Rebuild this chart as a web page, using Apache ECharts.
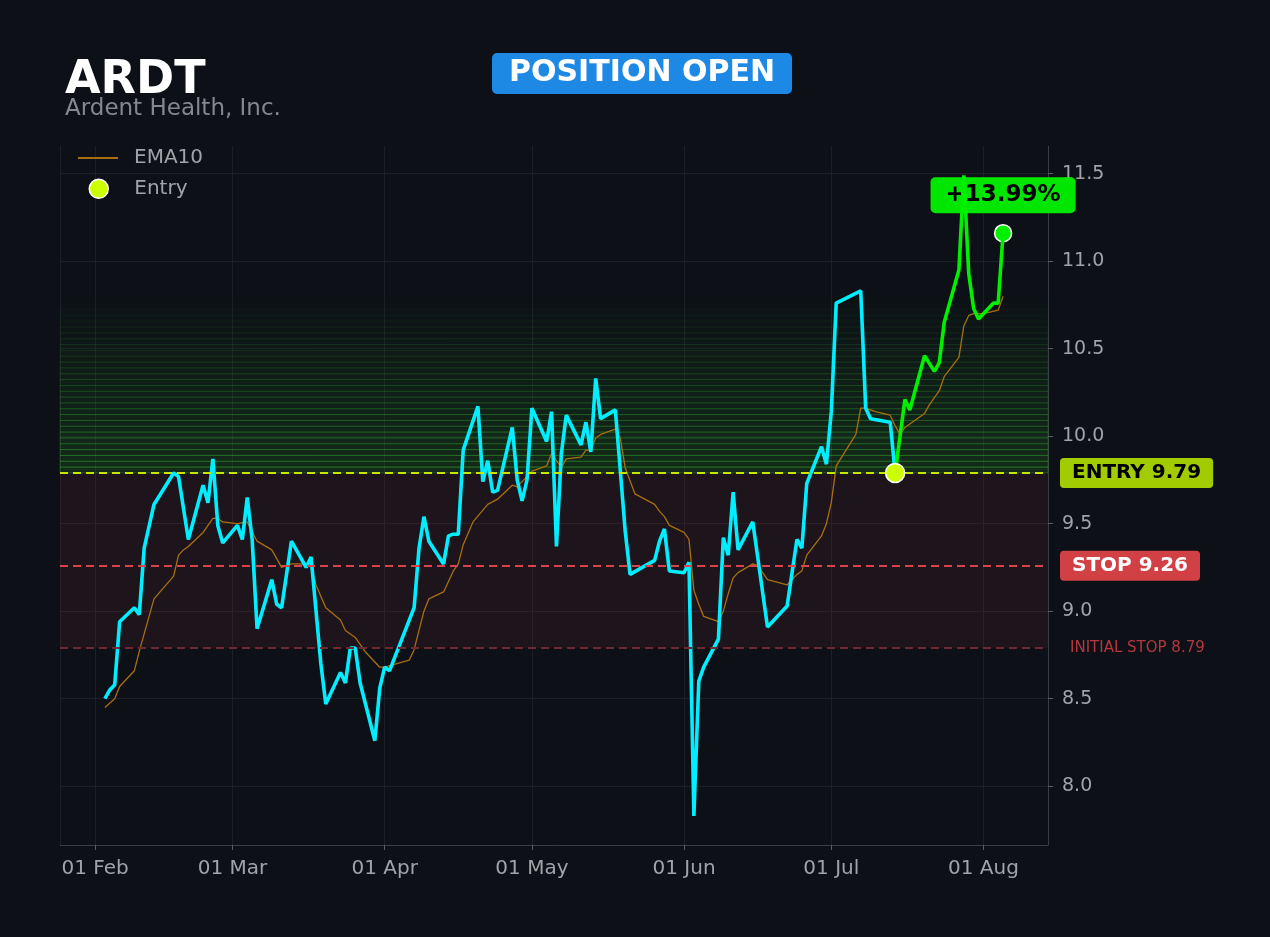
<!DOCTYPE html>
<html>
<head>
<meta charset="utf-8">
<script src="https://cdn.jsdelivr.net/npm/echarts@6/dist/echarts.min.js"></script>
<style>
html,body{margin:0;padding:0;background:#0d1117;}
#chart{width:1270px;height:937px;}
</style>
</head>
<body>
<div id="chart"></div>
<script>
/* ARDT position chart: close line (cyan before entry, green after), EMA10,
   entry / stop / initial stop levels, profit zone gradient and risk zone. */
var TICKER = "ARDT";
var COMPANY = "Ardent Health, Inc.";
var STATUS = "POSITION OPEN";
var ENTRY = 9.79, STOP = 9.26, INITIAL_STOP = 8.79;
var ENTRY_DATE = "2025-07-14";

var priceDates = [
  "2025-02-03","2025-02-04","2025-02-05","2025-02-06","2025-02-09","2025-02-10","2025-02-11","2025-02-13",
  "2025-02-17","2025-02-18","2025-02-20","2025-02-23","2025-02-24","2025-02-25","2025-02-26","2025-02-27",
  "2025-03-02","2025-03-03","2025-03-04","2025-03-05","2025-03-06","2025-03-09","2025-03-10","2025-03-11",
  "2025-03-13","2025-03-16","2025-03-17","2025-03-19","2025-03-20","2025-03-23","2025-03-24","2025-03-25",
  "2025-03-26","2025-03-27","2025-03-30","2025-03-31","2025-04-01","2025-04-02","2025-04-07","2025-04-08",
  "2025-04-09","2025-04-10","2025-04-13","2025-04-14","2025-04-15","2025-04-16","2025-04-17","2025-04-20",
  "2025-04-21","2025-04-22","2025-04-23","2025-04-24","2025-04-27","2025-04-28","2025-04-29","2025-04-30",
  "2025-05-01","2025-05-04","2025-05-05","2025-05-06","2025-05-07","2025-05-08","2025-05-11","2025-05-12",
  "2025-05-13","2025-05-14","2025-05-15","2025-05-18","2025-05-20","2025-05-21","2025-05-26","2025-05-27",
  "2025-05-28","2025-05-29","2025-06-01","2025-06-02","2025-06-03","2025-06-04","2025-06-05","2025-06-08",
  "2025-06-09","2025-06-10","2025-06-11","2025-06-12","2025-06-15","2025-06-18","2025-06-22","2025-06-24",
  "2025-06-25","2025-06-26","2025-06-29","2025-06-30","2025-07-01","2025-07-02","2025-07-07","2025-07-08",
  "2025-07-09","2025-07-13","2025-07-14","2025-07-16","2025-07-17","2025-07-20","2025-07-22","2025-07-23",
  "2025-07-24","2025-07-27","2025-07-28","2025-07-29","2025-07-30","2025-07-31","2025-08-03","2025-08-04",
  "2025-08-05"
];
var priceValues = [
  8.50, 8.55, 8.58, 8.94, 9.02, 8.98, 9.36, 9.61,
  9.79, 9.77, 9.41, 9.72, 9.62, 9.87, 9.49, 9.39,
  9.49, 9.41, 9.65, 9.41, 8.90, 9.18, 9.04, 9.02,
  9.40, 9.25, 9.31, 8.70, 8.47, 8.65, 8.59, 8.79,
  8.79, 8.59, 8.26, 8.56, 8.68, 8.66, 9.02, 9.36,
  9.54, 9.40, 9.27, 9.43, 9.44, 9.44, 9.92, 10.17,
  9.74, 9.86, 9.68, 9.69, 10.05, 9.75, 9.63, 9.75,
  10.16, 9.97, 10.14, 9.37, 9.90, 10.12, 9.95, 10.08,
  9.91, 10.33, 10.10, 10.15, 9.46, 9.21, 9.29, 9.40,
  9.47, 9.23, 9.22, 9.28, 7.83, 8.60, 8.68, 8.84,
  9.42, 9.32, 9.68, 9.35, 9.51, 8.91, 9.03, 9.41,
  9.36, 9.73, 9.94, 9.84, 10.14, 10.76, 10.83, 10.16,
  10.10, 10.08, 9.79, 10.21, 10.15, 10.46, 10.37, 10.42,
  10.65, 10.95, 11.49, 10.93, 10.73, 10.67, 10.76, 10.76,
  11.16
];

var emaDates = [
  "2025-02-03","2025-02-05","2025-02-06","2025-02-09","2025-02-10","2025-02-13","2025-02-17","2025-02-18",
  "2025-02-19","2025-02-20","2025-02-23","2025-02-25","2025-02-26","2025-02-27","2025-03-02","2025-03-04",
  "2025-03-06","2025-03-09","2025-03-11","2025-03-13","2025-03-15","2025-03-17","2025-03-18","2025-03-20",
  "2025-03-23","2025-03-24","2025-03-26","2025-03-28","2025-03-31","2025-04-01","2025-04-06","2025-04-07",
  "2025-04-09","2025-04-10","2025-04-13","2025-04-15","2025-04-16","2025-04-17","2025-04-19","2025-04-22",
  "2025-04-24","2025-04-27","2025-04-28","2025-05-01","2025-05-04","2025-05-05","2025-05-07","2025-05-08",
  "2025-05-11","2025-05-12","2025-05-13","2025-05-14","2025-05-15","2025-05-18","2025-05-19","2025-05-20",
  "2025-05-22","2025-05-26","2025-05-27","2025-05-28","2025-05-29","2025-06-01","2025-06-02","2025-06-03",
  "2025-06-04","2025-06-05","2025-06-08","2025-06-09","2025-06-10","2025-06-11","2025-06-12","2025-06-15",
  "2025-06-16","2025-06-18","2025-06-22","2025-06-24","2025-06-25","2025-06-26","2025-06-29","2025-06-30",
  "2025-07-01","2025-07-02","2025-07-06","2025-07-07","2025-07-08","2025-07-10","2025-07-13","2025-07-14",
  "2025-07-15","2025-07-16","2025-07-20","2025-07-21","2025-07-23","2025-07-24","2025-07-27","2025-07-28",
  "2025-07-29","2025-07-30","2025-08-01","2025-08-04","2025-08-05"
];
var emaValues = [
  8.45, 8.50, 8.57, 8.66, 8.77, 9.07, 9.20, 9.32,
  9.35, 9.37, 9.45, 9.53, 9.53, 9.51, 9.50, 9.51,
  9.40, 9.35, 9.25, 9.27, 9.27, 9.26, 9.15, 9.02,
  8.95, 8.89, 8.85, 8.77, 8.68, 8.68, 8.72, 8.78,
  9.00, 9.07, 9.11, 9.23, 9.27, 9.38, 9.51, 9.61,
  9.64, 9.72, 9.71, 9.80, 9.83, 9.90, 9.82, 9.87,
  9.88, 9.92, 9.92, 9.99, 10.01, 10.04, 9.99, 9.82,
  9.67, 9.61, 9.57, 9.54, 9.49, 9.45, 9.41, 9.12,
  9.04, 8.97, 8.94, 9.00, 9.10, 9.19, 9.22, 9.27,
  9.26, 9.18, 9.15, 9.21, 9.23, 9.32, 9.43, 9.50,
  9.62, 9.83, 10.01, 10.16, 10.16, 10.14, 10.12, 10.06,
  10.01, 10.05, 10.13, 10.18, 10.26, 10.34, 10.45, 10.63,
  10.69, 10.70, 10.70, 10.72, 10.80
];

var MONTHS = ["Jan","Feb","Mar","Apr","May","Jun","Jul","Aug","Sep","Oct","Nov","Dec"];
var Y_MIN = 7.664, Y_MAX = 11.658;

var DAY = 86400000;
var FONT = "'DejaVu Sans', Verdana, sans-serif";
var C = {
  bg:"#0d1117", grid:"#1c1f26", axis:"#383c43", text:"#a0a3a8",
  cyan:"#00eeff", green:"#00f000", ema:"#a86f10",
  entry:"#c8e600", entryBox:"#a3cc00", stop:"#d9434b", stopBox:"#d04045",
  initStop:"#6e2a30", risk:"#b5373d"
};

function ts(s){ return echarts.number.parseDate(s).getTime(); }

/* split the close line at the entry: cyan before, green from entry on */
var entryIdx = priceDates.indexOf(ENTRY_DATE);
var beforeData = [], afterData = [];
for (var i = 0; i < priceDates.length; i++) {
  if (i <= entryIdx) beforeData.push([priceDates[i], priceValues[i]]);
  if (i >= entryIdx) afterData.push([priceDates[i], priceValues[i]]);
}
var emaData = emaDates.map(function(d, k){ return [d, emaValues[k]]; });
var lastDate = priceDates[priceDates.length - 1];
var lastVal = priceValues[priceValues.length - 1];
var gainPct = (lastVal / ENTRY - 1) * 100;
var riskPct = (INITIAL_STOP / ENTRY - 1) * 100;
var RISK = ENTRY - INITIAL_STOP;

/* x extent: data span padded 5% each side */
var t0 = ts(priceDates[0]), t1 = ts(lastDate);
var X_MIN = t0 - (t1 - t0) * 0.05, X_MAX = t1 + (t1 - t0) * 0.05;

/* profit zone: stacked thin bands fading upward from entry to entry + 1R */
var ZONE_STEPS = 30;
var zoneAreas = [];
for (var b = 0; b < ZONE_STEPS; b++) {
  var f = 1 - b / ZONE_STEPS;
  zoneAreas.push([
    { yAxis: ENTRY + RISK * b / ZONE_STEPS,
      itemStyle: { color: "rgba(60,200,40," + (0.14 * f).toFixed(4) + ")",
                   borderColor: "rgba(60,215,50," + (0.26 * f).toFixed(4) + ")", borderWidth: 1 } },
    { yAxis: ENTRY + RISK * (b + 1) / ZONE_STEPS }
  ]);
}
zoneAreas.push([
  { yAxis: INITIAL_STOP, itemStyle: { color: "rgba(220,60,70,0.085)", borderWidth: 0 } },
  { yAxis: ENTRY }
]);

var dashed = [8, 5];
var chart = echarts.init(document.getElementById("chart"), null, { renderer: "canvas" });
chart.setOption({
  animation: false,
  backgroundColor: C.bg,
  textStyle: { fontFamily: FONT },
  title: [
    { text: TICKER, left: 65, top: 58, padding: 0,
      textStyle: { color: "#ffffff", fontSize: 46, fontWeight: "bold", fontFamily: FONT } },
    { text: COMPANY, left: 65, top: 98, padding: 0,
      textStyle: { color: "#84878d", fontSize: 23, fontWeight: "normal", fontFamily: FONT } },
    { text: STATUS, left: 492, top: 53, padding: [5, 17, 6, 17], backgroundColor: "#1e88e5", borderRadius: 5,
      textStyle: { color: "#ffffff", fontSize: 30, fontWeight: "bold", fontFamily: FONT } }
  ],
  legend: [
    { data: [{ name: "EMA10", icon: "rect" }], orient: "vertical", left: 78, top: 148, padding: 0,
      itemWidth: 40, itemHeight: 2, selectedMode: false,
      textStyle: { color: C.text, fontSize: 20, fontFamily: FONT, padding: [0, 0, 0, 11] } },
    { data: [{ name: "Entry", icon: "circle" }], orient: "vertical", left: 88.5, top: 178.5, padding: 0,
      itemWidth: 19, itemHeight: 19, selectedMode: false,
      itemStyle: { color: "#ccff00", borderColor: "#ffffff", borderWidth: 1.5 },
      textStyle: { color: C.text, fontSize: 20, fontFamily: FONT, padding: [0, 0, 0, 21] } }
  ],
  grid: { left: 60, right: 222, top: 146, bottom: 92, containLabel: false },
  xAxis: {
    type: "time", min: X_MIN, max: X_MAX,
    minInterval: 28 * DAY, maxInterval: 31 * DAY,
    axisLine: { show: true, lineStyle: { color: C.axis } },
    axisTick: { show: true, length: 5, lineStyle: { color: "#5a5e65" } },
    axisLabel: { color: C.text, fontSize: 20, margin: 14, fontFamily: FONT,
      showMinLabel: false, showMaxLabel: false,
      formatter: function(v){ var d = new Date(v); var dd = d.getDate(); return (dd < 10 ? "0" : "") + dd + " " + MONTHS[d.getMonth()]; } },
    splitLine: { show: true, lineStyle: { color: C.grid, width: 1 } }
  },
  yAxis: {
    type: "value", position: "right", min: Y_MIN, max: Y_MAX, splitNumber: 8,
    axisLine: { show: true, lineStyle: { color: C.axis } },
    axisTick: { show: true, length: 5, lineStyle: { color: "#5a5e65" } },
    axisLabel: { color: C.text, fontSize: 19, margin: 14, fontFamily: FONT,
      showMinLabel: false, showMaxLabel: false,
      formatter: function(v){ return v.toFixed(1); } },
    splitLine: { show: true, showMinLine: false, showMaxLine: false, lineStyle: { color: C.grid, width: 1 } }
  },
  series: [
    { name: "zones", type: "line", data: [], z: 1, silent: true,
      markArea: { silent: true, data: zoneAreas },
      markLine: {
        silent: true, symbol: ["none", "none"],
        data: [
          { yAxis: ENTRY, lineStyle: { color: C.entry, type: dashed, width: 2 },
            label: { show: true, position: "end", distance: 12, formatter: "ENTRY " + ENTRY.toFixed(2),
              backgroundColor: C.entryBox, color: "#000000", fontWeight: "bold", fontSize: 20,
              fontFamily: FONT, padding: [5, 12, 5, 12], borderRadius: 4 } },
          { yAxis: STOP, lineStyle: { color: C.stop, type: dashed, width: 2 },
            label: { show: true, position: "end", distance: 12, formatter: "STOP " + STOP.toFixed(2),
              backgroundColor: C.stopBox, color: "#ffffff", fontWeight: "bold", fontSize: 20,
              fontFamily: FONT, padding: [5, 12, 5, 12], borderRadius: 4 } },
          { yAxis: INITIAL_STOP, lineStyle: { color: C.initStop, type: dashed, width: 2 },
            label: { show: true, position: "end", distance: 22, formatter: "INITIAL STOP " + INITIAL_STOP.toFixed(2),
              color: C.risk, fontSize: 15, fontFamily: FONT } },
          { yAxis: INITIAL_STOP, lineStyle: { opacity: 0 },
            label: { show: true, position: "insideStartBottom", distance: [17, 9],
              formatter: "INITIAL RISK: " + riskPct.toFixed(2) + "%", color: C.risk, fontSize: 17, fontFamily: FONT } }
        ]
      }
    },
    { name: "EMA10", type: "line", data: emaData, z: 3, showSymbol: false, silent: true,
      color: C.ema, lineStyle: { color: C.ema, width: 1.3 },
      markPoint: {
        silent: true,
        data: [{ coord: [lastDate, lastVal], symbol: "rect", symbolSize: [1, 1],
          itemStyle: { color: "rgba(0,0,0,0)" },
          label: { show: true, position: "inside", offset: [0, -38],
            formatter: (gainPct >= 0 ? "+" : "") + gainPct.toFixed(2) + "%",
            backgroundColor: "#00e600", color: "#000000", fontWeight: "bold", fontSize: 23, fontFamily: FONT,
            padding: [7, 15, 6, 15], borderRadius: 5 } }]
      }
    },
    { name: "Close", type: "line", data: beforeData, z: 4, showSymbol: false, silent: true,
      lineStyle: { color: C.cyan, width: 3.6 }, itemStyle: { color: C.cyan } },
    { name: "Open", type: "line", data: afterData, z: 5, showSymbol: false, silent: true,
      lineStyle: { color: C.green, width: 3.6 }, itemStyle: { color: C.green },
      markPoint: {
        silent: true,
        data: [{ coord: [lastDate, lastVal], symbol: "circle", symbolSize: 17,
          itemStyle: { color: C.green, borderColor: "#ffffff", borderWidth: 1.5 }, label: { show: false } }]
      }
    },
    { name: "Entry", type: "scatter", data: [[ENTRY_DATE, ENTRY]], z: 6, silent: true,
      symbol: "circle", symbolSize: 19,
      itemStyle: { color: "#ccff00", borderColor: "#ffffff", borderWidth: 1.5, opacity: 1 } }
  ]
});
</script>
</body>
</html>
